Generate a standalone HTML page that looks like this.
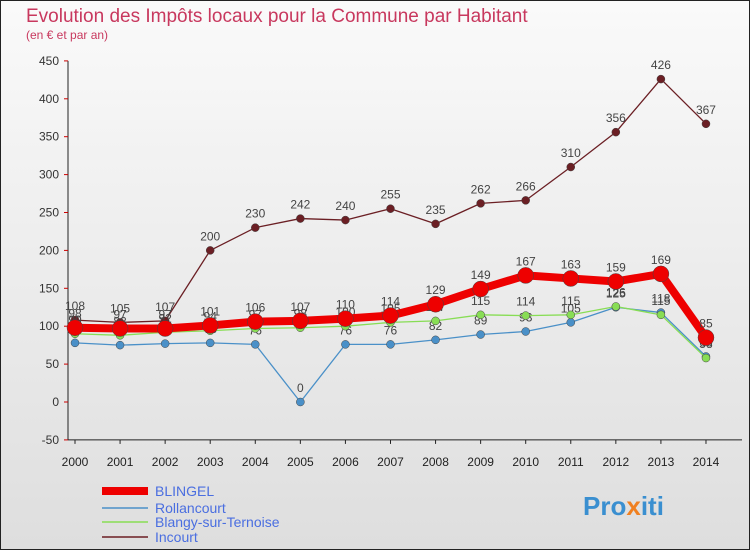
<!DOCTYPE html>
<html><head><meta charset="utf-8"><style>
body{margin:0;width:750px;height:550px;overflow:hidden;font-family:"Liberation Sans",sans-serif}
</style></head><body>
<svg id="chart" width="750" height="550" style="display:block">
<defs><linearGradient id="bg" x1="0" y1="0" x2="0" y2="1"><stop offset="0" stop-color="#fafafa"/><stop offset="1" stop-color="#dedede"/></linearGradient></defs>
<rect x="0.5" y="0.5" width="749" height="549" fill="url(#bg)" stroke="#222"/>
<text x="26" y="22" font-size="19" fill="#c8385e">Evolution des Impôts locaux pour la Commune par Habitant</text>
<text x="26" y="39" font-size="12" fill="#c8385e">(en € et par an)</text>
<g id="axes"></g><g id="series"></g>
<g font-size="14" fill="#4a6ee0">
<line x1="102" y1="491" x2="148" y2="491" stroke="#ee0000" stroke-width="8"/>
<text x="155" y="496">BLINGEL</text>
<line x1="102" y1="508" x2="148" y2="508" stroke="#4a90c8" stroke-width="1.5"/>
<text x="155" y="513">Rollancourt</text>
<line x1="102" y1="522" x2="148" y2="522" stroke="#88dd55" stroke-width="1.5"/>
<text x="155" y="527">Blangy-sur-Ternoise</text>
<line x1="102" y1="537" x2="148" y2="537" stroke="#6b1f24" stroke-width="1.5"/>
<text x="155" y="542">Incourt</text>
</g>
<text x="583" y="515" font-size="26" font-weight="bold"><tspan fill="#3a8fd0">Pro</tspan><tspan fill="#f08020">x</tspan><tspan fill="#3a8fd0">iti</tspan></text>
</svg>
<script>
const years=["2000","2001","2002","2003","2004","2005","2006","2007","2008","2009","2010","2011","2012","2013","2014"];
const yTicks=[-50,0,50,100,150,200,250,300,350,400,450];
const blingel=[98,97,97,101,106,107,110,114,129,149,167,163,159,169,85];
const rollancourt=[78,75,77,78,76,0,76,76,82,89,93,105,125,118,60];
const blangy=[90,88,92,94,97,98,100,105,107,115,114,115,126,115,58];
const incourt=[108,105,107,200,230,242,240,255,235,262,266,310,356,426,367];
const NS="http://www.w3.org/2000/svg";
const xs=i=>75+i*45.07;
const ys=v=>402-v*0.758;
function mk(t,a,p){const e=document.createElementNS(NS,t);for(const k in a)e.setAttribute(k,a[k]);p.appendChild(e);return e;}
const ax=document.getElementById('axes'),sg=document.getElementById('series');
mk('line',{x1:68,y1:ys(450),x2:68,y2:ys(-50),stroke:'#222'},ax);
mk('line',{x1:68,y1:ys(-50),x2:742,y2:ys(-50),stroke:'#222'},ax);
yTicks.forEach(v=>{
 const l=mk('line',{x1:64,y1:ys(v),x2:68,y2:ys(v),stroke:'#c00'},ax);
 
 
 const t=mk('text',{x:59,y:ys(v)+4,'font-size':12,'text-anchor':'end',fill:'#333'},ax);
 t.textContent=v;
 
 
});
years.forEach((y,i)=>{
 mk('line',{x1:xs(i),y1:ys(-50),x2:xs(i),y2:ys(-50)+4,stroke:'#222'},ax);
 const t=mk('text',{x:xs(i),y:466,'font-size':12,'text-anchor':'middle',fill:'#222'},ax);
 t.textContent=y;
 
 
});
function series(d,name,color,w,r){
 const g=mk('g',{},sg);
 
 
 const p=mk('polyline',{points:d.map((v,i)=>xs(i)+','+ys(v)).join(' '),fill:'none',stroke:color,'stroke-width':w,'stroke-linejoin':'round'},g);
 
 
 d.forEach((v,i)=>{
  const c=mk('circle',{cx:xs(i),cy:ys(v),r:r,fill:color,stroke:'#444','stroke-width':0.5},g);
  
  
  const t=mk('text',{x:xs(i),y:ys(v)-10,'font-size':12,'text-anchor':'middle',fill:'#444'},g);
  t.textContent=v;
  
  
 });
}
series(incourt,'incourt','#6b1f24',1.3,4);
series(rollancourt,'rollancourt','#4a90c8',1.3,4);
series(blangy,'blangy','#88dd55',1.3,4);
series(blingel,'blingel','#ee0000',8,8);
</script>
</body></html>
